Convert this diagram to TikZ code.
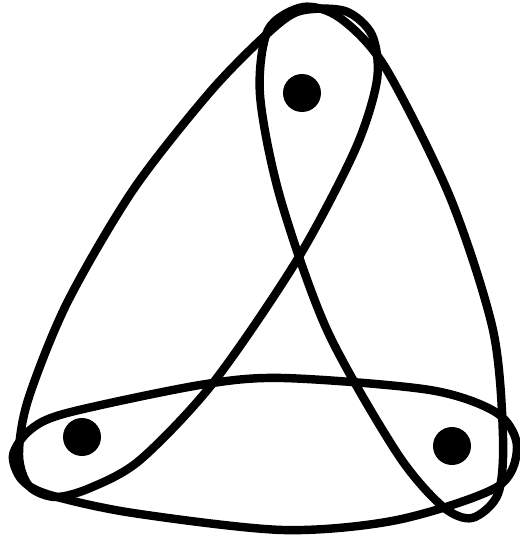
\documentclass[tikz,border=0pt]{standalone}
\usepackage{tikz}
\tikzset{
    vertex/.style = {circle, fill, inner sep=0pt, minimum size=0.76cm},
    hyperedge/.style = {draw, line width=4.8pt, line join=round},
}

\begin{document}
\begin{tikzpicture}[x={(0.02cm,0)}, y={(0,-0.02cm)}]
                \useasboundingbox (0, 0) rectangle (520, 535);

                \node[vertex] (a) at (302, 93) {};
                \node[vertex] (b) at (82, 437) {};
                \node[vertex] (c) at (452, 446) {};

                % edge {a, b}
                \draw[hyperedge] plot[smooth cycle] coordinates {
                    (268,33) (300,11) (345,11) (372,35) (377,80) (355,150)
                    (297,260) (213,383) (140,460) (90,488) (55,497) (29,486)
                    (19,455) (28,400) (67,303) (133,190) (210,92)};
                % edge {a, c}
                \draw[hyperedge] plot[smooth cycle] coordinates {
                    (268,30) (303,7) (340,18) (385,67) (450,197) (493,330)
                    (503,437) (498,494) (472,518) (442,506) (397,453) (327,330)
                    (280,197) (260,95)};
                % edge {b, c}
                \draw[hyperedge] plot[smooth cycle] coordinates {
                    (13,455) (30,430) (67,413) (200,385) (283,378) (430,390)
                    (497,413) (517,447) (497,487) (397,520) (283,530) (133,513)
                    (50,495) (22,480)};
            \end{tikzpicture}
\end{document}
